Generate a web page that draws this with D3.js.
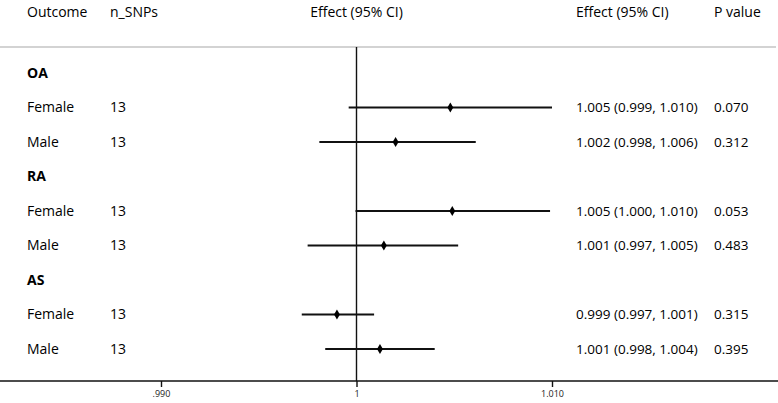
<!DOCTYPE html>
<html>
<head>
<meta charset="utf-8">
<script src="https://cdn.jsdelivr.net/npm/d3@7"></script>
<style>
  body { margin: 0; background: #fff; }
  svg { display: block; font-family: 'Open Sans', sans-serif; }
</style>
</head>
<body>
<div id="chart"></div>
<script>
// rows top to bottom: group headers and subgroup rows
const rowLabels = ['OA', 'Female', 'Male', 'RA', 'Female', 'Male', 'AS', 'Female', 'Male']
const rowIsGroup = [true, false, false, true, false, false, true, false, false]
const nSnps = ['', '13', '13', '', '13', '13', '', '13', '13']
// estimates (null for group header rows)
const estimate = [null, 1.0048, 1.0020, null, 1.0049, 1.0014, null, 0.9990, 1.0012]
const lower = [null, 0.9996, 0.9981, null, 0.99995, 0.9975, null, 0.9972, 0.9984]
const upper = [null, 1.0100, 1.0061, null, 1.0099, 1.0052, null, 1.0009, 1.0040]
const ciText = ['', '1.005 (0.999, 1.010)', '1.002 (0.998, 1.006)', '', '1.005 (1.000, 1.010)', '1.001 (0.997, 1.005)', '', '0.999 (0.997, 1.001)', '1.001 (0.998, 1.004)']
const pText = ['', '0.070', '0.312', '', '0.053', '0.483', '', '0.315', '0.395']
const tickValues = [0.99, 1, 1.01]
const tickLabels = ['.990', '1', '1.010']

const width = 778, height = 403
const svg = d3.select('#chart').append('svg').attr('width', width).attr('height', height)

const x = d3.scaleLinear().domain([0.99, 1.01]).range([161, 552])
const y = d3.scalePoint().domain(d3.range(rowLabels.length)).range([73, 349])
const axisY = 381, topLine = 47
const ink = '#111'

// column headers
const headers = [
  { t: 'Outcome', x: 27, anchor: 'start' },
  { t: 'n_SNPs', x: 110, anchor: 'start' },
  { t: 'Effect (95% CI)', x: x(1), anchor: 'middle' },
  { t: 'Effect (95% CI)', x: 576, anchor: 'start' },
  { t: 'P value', x: 714, anchor: 'start' }
]
svg.selectAll('text.header')
  .data(headers)
  .enter()
  .append('text')
  .attr('class', 'header')
  .attr('x', d => d.x)
  .attr('y', 17)
  .attr('text-anchor', d => d.anchor)
  .attr('font-size', 14)
  .style('fill', '#000')
  .text(d => d.t)

// separator under header
svg.append('line')
  .attr('x1', 0).attr('x2', 776)
  .attr('y1', topLine).attr('y2', topLine)
  .attr('stroke', '#c4c4c4').attr('stroke-width', 1.4)

// null line
svg.append('line')
  .attr('x1', x(1)).attr('x2', x(1))
  .attr('y1', topLine).attr('y2', axisY)
  .attr('stroke', ink).attr('stroke-width', 1.4)

// bottom axis
const gAxis = svg.append('g').attr('transform', `translate(0,${axisY})`)
gAxis.call(d3.axisBottom(x).tickValues(tickValues).tickSize(6).tickPadding(4)
  .tickFormat((d, i) => tickLabels[i]))
gAxis.select('.domain').remove()
gAxis.append('line').attr('x1', 0).attr('x2', width).attr('stroke', ink).attr('stroke-width', 1.4)
gAxis.selectAll('.tick line').attr('stroke', ink).attr('stroke-width', 1.4)
gAxis.selectAll('.tick text')
  .attr('font-size', 9)
  .attr('font-family', 'Open Sans')
  .style('fill', '#222')

// row labels
const rows = svg.append('g').attr('class', 'rows')
const idx = d3.range(rowLabels.length)
rows.selectAll('text.label')
  .data(idx)
  .enter()
  .append('text')
  .attr('x', 27)
  .attr('y', i => y(i))
  .attr('dy', '0.35em')
  .attr('font-size', 14)
  .attr('font-weight', i => rowIsGroup[i] ? 'bold' : 'normal')
  .style('fill', '#000')
  .text(i => rowLabels[i])

const dataRows = idx.filter(i => !rowIsGroup[i])

rows.selectAll('text.n')
  .data(dataRows)
  .enter()
  .append('text')
  .attr('x', 110)
  .attr('y', i => y(i))
  .attr('dy', '0.35em')
  .attr('font-size', 14)
  .style('fill', '#000')
  .text(i => nSnps[i])

rows.selectAll('text.ci')
  .data(dataRows)
  .enter()
  .append('text')
  .attr('x', 576)
  .attr('y', i => y(i))
  .attr('dy', '0.35em')
  .attr('font-size', 13.5)
  .style('fill', '#000')
  .text(i => ciText[i])

rows.selectAll('text.p')
  .data(dataRows)
  .enter()
  .append('text')
  .attr('x', 714)
  .attr('y', i => y(i))
  .attr('dy', '0.35em')
  .attr('font-size', 13.5)
  .style('fill', '#000')
  .text(i => pText[i])

// confidence intervals
rows.selectAll('line.ci')
  .data(dataRows)
  .enter()
  .append('line')
  .attr('x1', i => x(lower[i]))
  .attr('x2', i => x(upper[i]))
  .attr('y1', i => y(i))
  .attr('y2', i => y(i))
  .attr('stroke', ink)
  .attr('stroke-width', 1.8)

// point estimates
rows.selectAll('path.pt')
  .data(dataRows)
  .enter()
  .append('path')
  .attr('d', d3.symbol().type(d3.symbolDiamond).size(30))
  .attr('transform', i => `translate(${x(estimate[i])},${y(i)})`)
  .style('fill', '#000')
</script>
</body>
</html>
